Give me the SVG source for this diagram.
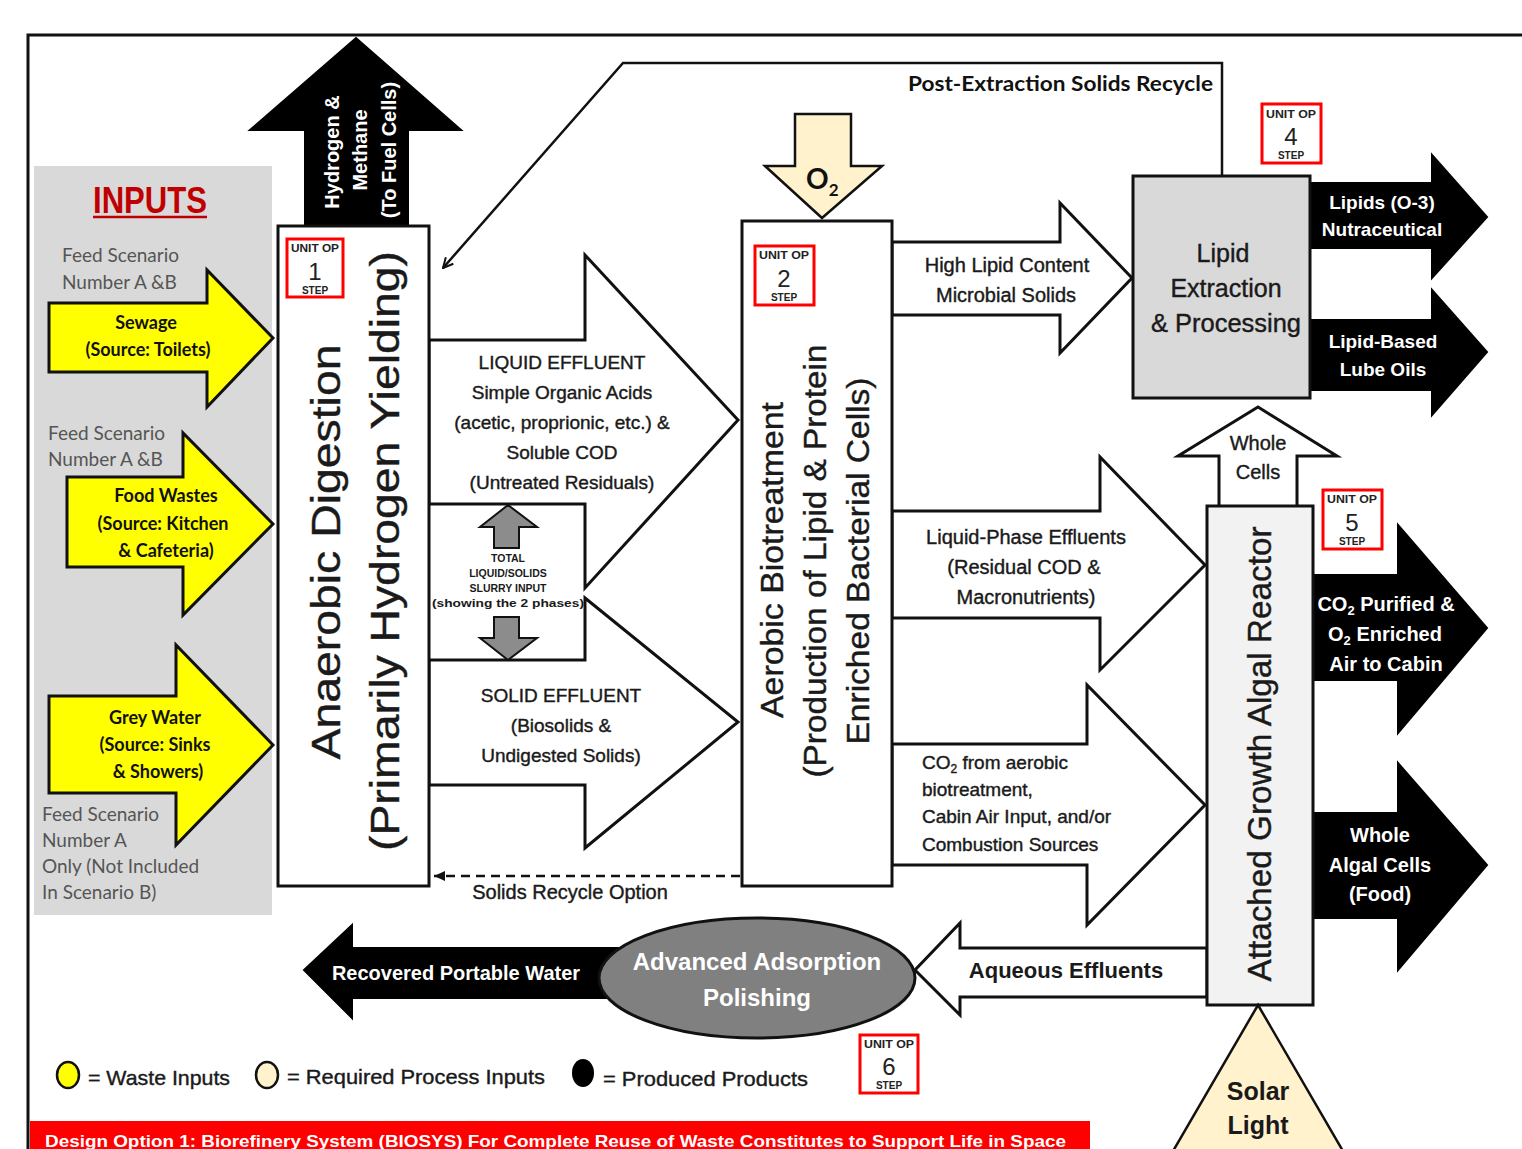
<svg xmlns="http://www.w3.org/2000/svg" width="1522" height="1149" viewBox="0 0 1522 1149">
<defs>
<style>
.t{font-family:"Liberation Sans",Arial,sans-serif;fill:#1a1a1a}
.d{stroke:#1a1a1a;stroke-width:0.4}
.c{font-family:Lato,"Liberation Sans",sans-serif}
.w{fill:#fff;font-weight:bold}
.m{text-anchor:middle}
.ol{stroke:#111;stroke-width:3;stroke-linejoin:miter}
.blk{fill:#000;stroke:#000;stroke-width:2}
.wht{fill:#fff;stroke:#111;stroke-width:3}
.yel{fill:#ffff00;stroke:#111;stroke-width:3}
.pale{fill:#fff2cc;stroke:#111;stroke-width:2.5}
.uo rect{fill:#fff;stroke:#ff0000;stroke-width:3}
.uo text{font-family:"Liberation Sans",Arial,sans-serif;text-anchor:middle;fill:#222}
.uo .s{font-size:10px;font-weight:bold}
</style>
<marker id="va" viewBox="0 0 12 12" refX="11" refY="6" markerWidth="12" markerHeight="12" markerUnits="userSpaceOnUse" orient="auto">
<path d="M1,1 L11,6 L1,11" fill="none" stroke="#111" stroke-width="2"/>
</marker>
<marker id="fa" viewBox="0 0 12 12" refX="11" refY="6" markerWidth="12" markerHeight="12" markerUnits="userSpaceOnUse" orient="auto">
<path d="M0,1 L11,6 L0,11 Z" fill="#111"/>
</marker>
</defs>
<rect width="1522" height="1149" fill="#fff"/>
<path d="M28,1149 L28,35 L1522,35" fill="none" stroke="#111" stroke-width="3"/>

<g id="inputs-panel">
<rect x="34" y="166" width="238" height="749" fill="#d9d9d9"/>
<text x="150" y="213" class="m" font-family="Liberation Sans,Arial,sans-serif" font-weight="bold" font-size="36" fill="#c00000" textLength="114" lengthAdjust="spacingAndGlyphs">INPUTS</text>
<line x1="93" y1="217" x2="207" y2="217" stroke="#c00000" stroke-width="2.5"/>
<g class="c" fill="#555" font-size="19">
<text x="62" y="262">Feed Scenario</text>
<text x="62" y="289">Number A &amp;B</text>
<text x="48" y="440">Feed Scenario</text>
<text x="48" y="466">Number A &amp;B</text>
<text x="42" y="821">Feed Scenario</text>
<text x="42" y="847">Number  A</text>
<text x="42" y="873">Only (Not Included</text>
<text x="42" y="899">In Scenario B)</text>
</g>
</g>

<g id="connectors">
<g id="sewage-arrow">
<polygon class="yel" points="49,303 207,303 207,270 273,338 207,407 207,372 49,372"/>
<text class="c m" font-weight="bold" font-size="18" x="146" y="329" fill="#111">Sewage</text>
<text class="c m" font-weight="bold" font-size="18" x="148" y="356" fill="#111">(Source: Toilets)</text>
</g>
<g id="food-arrow">
<polygon class="yel" points="67,477 183,477 183,433 273,524 183,615 183,567 67,567"/>
<text class="c m" font-weight="bold" font-size="18" x="166" y="502" fill="#111">Food Wastes</text>
<text class="c m" font-weight="bold" font-size="18" x="163" y="530" fill="#111">(Source: Kitchen</text>
<text class="c m" font-weight="bold" font-size="18" x="166" y="557" fill="#111">&amp; Cafeteria)</text>
</g>
<g id="grey-arrow">
<polygon class="yel" points="49,696 176,696 176,645 273,745 176,845 176,793 49,793"/>
<text class="c m" font-weight="bold" font-size="18" x="155" y="724" fill="#111">Grey Water</text>
<text class="c m" font-weight="bold" font-size="18" x="155" y="751" fill="#111">(Source: Sinks</text>
<text class="c m" font-weight="bold" font-size="18" x="158" y="778" fill="#111">&amp; Showers)</text>
</g>
<g id="hydrogen-arrow">
<polygon class="blk" points="305,226 305,130 250,130 356,38 461,130 408,130 408,226"/>
<text class="t w m" font-size="20" transform="translate(339,152) rotate(-90)">Hydrogen &amp;</text>
<text class="t w m" font-size="20" transform="translate(367,150) rotate(-90)">Methane</text>
<text class="t w m" font-size="20" transform="translate(396,150) rotate(-90)">(To Fuel Cells)</text>
</g>
<g id="liquid-effluent">
<polygon class="wht" points="429,340 585,340 585,255 738,420 585,588 585,504 429,504"/>
<g class="t d m" font-size="19">
<text x="562" y="369">LIQUID EFFLUENT</text>
<text x="562" y="399">Simple Organic Acids</text>
<text x="562" y="429">(acetic, proprionic, etc.) &amp;</text>
<text x="562" y="459">Soluble COD</text>
<text x="562" y="489">(Untreated Residuals)</text>
</g>
</g>
<g id="solid-effluent">
<polygon class="wht" points="429,660 585,660 585,598 738,722 585,848 585,785 429,785"/>
<g class="t d m" font-size="19">
<text x="561" y="702">SOLID EFFLUENT</text>
<text x="561" y="732">(Biosolids &amp;</text>
<text x="561" y="762">Undigested Solids)</text>
</g>
</g>
<g id="slurry">
<polygon fill="#8c8c8c" stroke="#111" stroke-width="2" points="494,548 494,527 480,527 508,505 537,527 519,527 519,548"/>
<polygon fill="#8c8c8c" stroke="#111" stroke-width="2" points="494,617 519,617 519,638 537,638 508,660 480,638 494,638"/>
<g class="t m" font-weight="bold" font-size="10.5" fill="#222">
<text x="508" y="562">TOTAL</text>
<text x="508" y="577">LIQUID/SOLIDS</text>
<text x="508" y="592">SLURRY INPUT</text>
<text x="508" y="607" textLength="152" lengthAdjust="spacingAndGlyphs">(showing the 2 phases)</text>
</g>
</g>
<g id="o2-arrow">
<polygon class="pale" points="795,114 851,114 851,166 882,166 822,218 765,166 795,166"/>
<text class="c" font-weight="bold" font-size="28" x="806" y="189" fill="#111">O<tspan font-size="17" dy="7">2</tspan></text>
</g>
<g id="post-extraction">
<polyline points="1222,175 1222,63 623,63 443,268" fill="none" stroke="#111" stroke-width="2.5" marker-end="url(#va)"/>
<text class="c" font-weight="bold" font-size="21" x="1213" y="91" text-anchor="end" fill="#111" textLength="305" lengthAdjust="spacingAndGlyphs">Post-Extraction Solids Recycle</text>
</g>
<g id="solids-recycle">
<line x1="740" y1="876" x2="434" y2="876" stroke="#111" stroke-width="2.5" stroke-dasharray="9,6" marker-end="url(#fa)"/>
<text class="t d m" font-size="20" x="570" y="899">Solids Recycle Option</text>
</g>
<g id="high-lipid">
<polygon class="wht" points="892,242 1060,242 1060,203 1132,278 1060,353 1060,315 892,315"/>
<text class="t d m" font-size="20" x="1007" y="272">High Lipid Content</text>
<text class="t d m" font-size="20" x="1006" y="302">Microbial Solids</text>
</g>
<g id="liquid-phase">
<polygon class="wht" points="892,511 1100,511 1100,457 1205,565 1100,670 1100,618 892,618"/>
<text class="t d m" font-size="20" x="1026" y="544">Liquid-Phase Effluents</text>
<text class="t d m" font-size="20" x="1024" y="574">(Residual COD &amp;</text>
<text class="t d m" font-size="20" x="1026" y="604">Macronutrients)</text>
</g>
<g id="co2-input">
<polygon class="wht" points="892,744 1087,744 1087,685 1205,805 1087,925 1087,865 892,865"/>
<g class="t d" font-size="19">
<text x="922" y="769">CO<tspan font-size="12" dy="4">2</tspan><tspan dy="-4"> from aerobic</tspan></text>
<text x="922" y="796">biotreatment,</text>
<text x="922" y="823">Cabin Air Input, and/or</text>
<text x="922" y="851">Combustion Sources</text>
</g>
</g>
<g id="lipids-out">
<polygon class="blk" points="1310,183 1432,183 1432,155 1487,217 1432,278 1432,248 1310,248"/>
<text class="t w m" font-size="19" x="1382" y="209">Lipids (O-3)</text>
<text class="t w m" font-size="19" x="1382" y="236">Nutraceutical</text>
</g>
<g id="lube-out">
<polygon class="blk" points="1310,320 1432,320 1432,290 1487,352 1432,415 1432,390 1310,390"/>
<text class="t w m" font-size="19" x="1383" y="348">Lipid-Based</text>
<text class="t w m" font-size="19" x="1383" y="376">Lube Oils</text>
</g>
<g id="whole-cells">
<polygon class="wht" points="1219,507 1219,456 1178,456 1258,407 1337,456 1297,456 1297,507"/>
<text class="t d m" font-size="20" x="1258" y="450">Whole</text>
<text class="t d m" font-size="20" x="1258" y="479">Cells</text>
</g>
<g id="co2-out">
<polygon class="blk" points="1313,575 1398,575 1398,525 1487,628 1398,733 1398,680 1313,680"/>
<g class="t w m" font-size="20">
<text x="1386" y="611">CO<tspan font-size="13" dy="4">2</tspan><tspan dy="-4"> Purified &amp;</tspan></text>
<text x="1385" y="641">O<tspan font-size="13" dy="4">2</tspan><tspan dy="-4"> Enriched</tspan></text>
<text x="1386" y="671">Air to Cabin</text>
</g>
</g>
<g id="algae-out">
<polygon class="blk" points="1313,813 1398,813 1398,763 1487,865 1398,970 1398,918 1313,918"/>
<g class="t w m" font-size="20">
<text x="1380" y="842">Whole</text>
<text x="1380" y="872">Algal Cells</text>
<text x="1380" y="901">(Food)</text>
</g>
</g>
<g id="aqueous">
<polygon class="wht" points="1207,948 960,948 960,923 915,970 960,1015 960,997 1207,997"/>
<text class="t m" font-weight="bold" font-size="22" x="1066" y="978">Aqueous Effluents</text>
</g>
<g id="water-out">
<polygon class="blk" points="620,948 352,948 352,925 304,970 352,1018 352,998 620,998"/>
<text class="t w m" font-size="20" x="456" y="980">Recovered Portable Water</text>
</g>
</g>

<g id="anaerobic">
<rect class="ol" x="278" y="226" width="151" height="660" fill="#fff"/>
<text class="t d m" font-size="40" transform="translate(340,552) rotate(-90)" textLength="415" lengthAdjust="spacingAndGlyphs">Anaerobic Digestion</text>
<text class="t d m" font-size="40" transform="translate(399,551) rotate(-90)" textLength="600" lengthAdjust="spacingAndGlyphs">(Primarily Hydrogen Yielding)</text>
</g>
<g id="uo1" class="uo"><rect x="287" y="239" width="56" height="58"/><text class="s" x="315" y="252" textLength="48" lengthAdjust="spacingAndGlyphs">UNIT OP</text><text x="315" y="280" font-size="24">1</text><text class="s" x="315" y="294">STEP</text></g>

<g id="aerobic">
<rect class="ol" x="742" y="221" width="150" height="665" fill="#fff"/>
<text class="t d m" font-size="31" transform="translate(783,560) rotate(-90)" textLength="316" lengthAdjust="spacingAndGlyphs">Aerobic Biotreatment</text>
<text class="t d m" font-size="31" transform="translate(826,561) rotate(-90)" textLength="433" lengthAdjust="spacingAndGlyphs">(Production of Lipid &amp; Protein</text>
<text class="t d m" font-size="31" transform="translate(869,561) rotate(-90)" textLength="367" lengthAdjust="spacingAndGlyphs">Enriched Bacterial Cells)</text>
</g>
<g id="uo2" class="uo"><rect x="755" y="246" width="59" height="59"/><text class="s" x="784" y="259" textLength="50" lengthAdjust="spacingAndGlyphs">UNIT OP</text><text x="784" y="287" font-size="24">2</text><text class="s" x="784" y="301">STEP</text></g>

<g id="lipid-extraction">
<rect class="ol" x="1133" y="176" width="177" height="222" fill="#d9d9d9"/>
<g class="t d m" font-size="25" fill="#222">
<text x="1223" y="262">Lipid</text>
<text x="1226" y="297">Extraction</text>
<text x="1226" y="332" textLength="150" lengthAdjust="spacingAndGlyphs">&amp; Processing</text>
</g>
</g>
<g id="uo4" class="uo"><rect x="1262" y="104" width="59" height="59"/><text class="s" x="1291" y="118" textLength="50" lengthAdjust="spacingAndGlyphs">UNIT OP</text><text x="1291" y="145" font-size="24">4</text><text class="s" x="1291" y="159">STEP</text></g>

<g id="algal-reactor">
<rect class="ol" x="1207" y="506" width="106" height="499" fill="#f2f2f2"/>
<text class="t d m" font-size="33" transform="translate(1271,754) rotate(-90)" textLength="455" lengthAdjust="spacingAndGlyphs">Attached Growth Algal Reactor</text>
</g>
<g id="uo5" class="uo"><rect x="1323" y="490" width="59" height="59"/><text class="s" x="1352" y="503" textLength="50" lengthAdjust="spacingAndGlyphs">UNIT OP</text><text x="1352" y="531" font-size="24">5</text><text class="s" x="1352" y="545">STEP</text></g>

<g id="solar">
<polygon class="pale" points="1258,1005 1347,1158 1169,1158"/>
<text class="t m" font-size="25" font-weight="bold" fill="#222" x="1258" y="1100">Solar</text>
<text class="t m" font-size="25" font-weight="bold" fill="#222" x="1258" y="1134">Light</text>
</g>

<g id="adsorption">
<ellipse cx="757" cy="978" rx="158" ry="60" fill="#808080" stroke="#111" stroke-width="3"/>
<text class="t w m" font-size="24" x="757" y="970">Advanced Adsorption</text>
<text class="t w m" font-size="24" x="757" y="1006">Polishing</text>
</g>
<g id="uo6" class="uo"><rect x="860" y="1035" width="58" height="58"/><text class="s" x="889" y="1048" textLength="50" lengthAdjust="spacingAndGlyphs">UNIT OP</text><text x="889" y="1075" font-size="24">6</text><text class="s" x="889" y="1089">STEP</text></g>

<g id="legend">
<ellipse cx="68" cy="1075" rx="11" ry="13" fill="#ffff00" stroke="#111" stroke-width="2.5"/>
<text class="t d" font-size="21" x="88" y="1085" textLength="142" lengthAdjust="spacingAndGlyphs">= Waste Inputs</text>
<ellipse cx="267" cy="1075" rx="11" ry="13" fill="#fff2cc" stroke="#111" stroke-width="2.5"/>
<text class="t d" font-size="21" x="287" y="1084" textLength="258" lengthAdjust="spacingAndGlyphs">= Required Process Inputs</text>
<ellipse cx="583" cy="1073" rx="11" ry="14" fill="#000"/>
<text class="t d" font-size="21" x="603" y="1086" textLength="205" lengthAdjust="spacingAndGlyphs">= Produced Products</text>
</g>

<g id="banner">
<rect x="30" y="1121" width="1060" height="30" fill="#ff0000"/>
<text class="t w" font-size="17" x="45" y="1147" textLength="1021" lengthAdjust="spacingAndGlyphs">Design Option 1:  Biorefinery System (BIOSYS) For Complete  Reuse of Waste Constitutes to Support Life in Space</text>
</g>
</svg>
